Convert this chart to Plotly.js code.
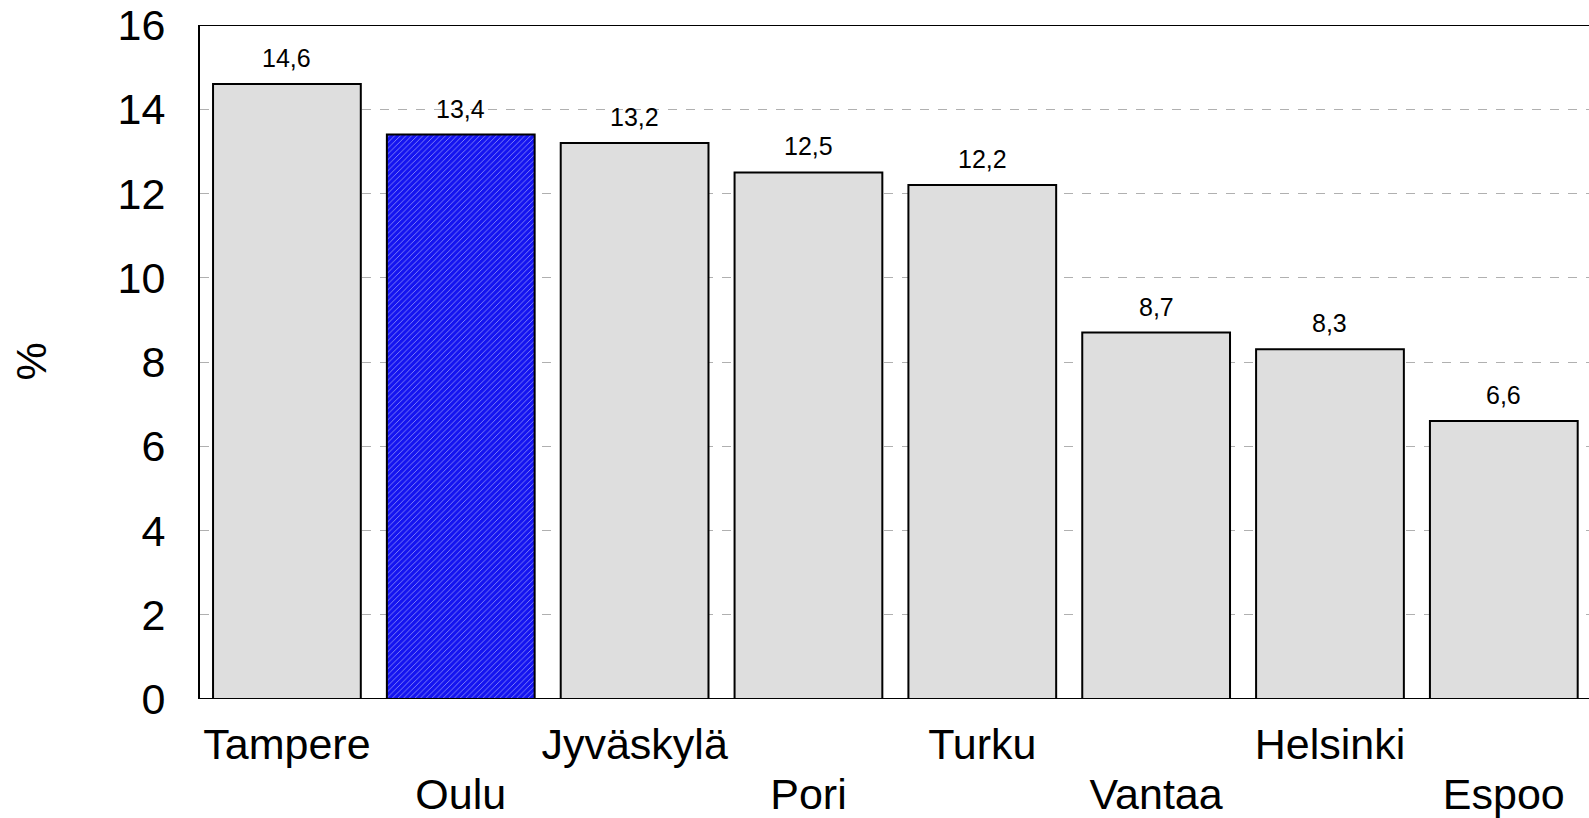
<!DOCTYPE html>
<html>
<head>
<meta charset="utf-8">
<script src="https://cdn.plot.ly/plotly-3.0.1.min.js"></script>
<style>html,body{margin:0;padding:0;background:#fff;overflow:hidden}#chart{width:1589px;height:818px}</style>
</head>
<body>
<div id="chart"></div>
<script>
const cities = ["Tampere", "Oulu", "Jyväskylä", "Pori", "Turku", "Vantaa", "Helsinki", "Espoo"];
const values = [14.6, 13.4, 13.2, 12.5, 12.2, 8.7, 8.3, 6.6];
const highlight = "Oulu";
const yTicks = [0, 2, 4, 6, 8, 10, 12, 14, 16];

const FONT = "Liberation Sans, Arial, sans-serif";
const idx = cities.map((c, i) => i);
const isHi = cities.map(c => c === highlight);

const bars = {
  type: "bar",
  x: idx,
  y: values,
  xaxis: "x",
  yaxis: "y",
  marker: {
    color: isHi.map(h => h ? "#1414f0" : "#dedede"),
    line: {color: "#000", width: 2},
    pattern: {
      shape: isHi.map(h => h ? "/" : ""),
      fgcolor: "#9a9aff",
      size: 4,
      solidity: 0.22,
      fillmode: "overlay"
    }
  },
  hoverinfo: "skip"
};

const evenIdx = idx.filter(i => i % 2 === 0);
const oddIdx = idx.filter(i => i % 2 === 1);

const annotations = values.map((v, i) => ({
  x: i, y: v, xref: "x", yref: "y",
  text: v.toFixed(1).replace(".", ","),
  showarrow: false, yanchor: "bottom", yshift: 10,
  font: {family: FONT, size: 25, color: "#000"}
}));

annotations.push({
  xref: "paper", yref: "paper", x: -0.122, y: 0.5,
  text: "%", textangle: -90, showarrow: false,
  xanchor: "center", yanchor: "middle",
  font: {family: FONT, size: 43, color: "#000"}
});

const xr = [-0.5, 7.49];
const layout = {
  width: 1589, height: 818,
  margin: {l: 200, r: 0, t: 25, b: 119},
  paper_bgcolor: "#fff", plot_bgcolor: "#fff",
  showlegend: false,
  bargap: 0.15,
  font: {family: FONT, color: "#000"},
  xaxis: {
    range: xr, tickmode: "array", tickvals: evenIdx, ticktext: evenIdx.map(i => cities[i]),
    showgrid: false, zeroline: false, showline: false, ticks: "",
    ticklabelstandoff: 16,
    tickfont: {family: FONT, size: 43, color: "#000"}, fixedrange: true
  },
  xaxis2: {
    overlaying: "x", anchor: "y", side: "bottom", range: xr,
    tickmode: "array", tickvals: oddIdx, ticktext: oddIdx.map(i => cities[i]),
    showgrid: false, zeroline: false, showline: false, ticks: "",
    ticklabelstandoff: 66,
    tickfont: {family: FONT, size: 43, color: "#000"}, fixedrange: true
  },
  yaxis: {
    range: [0, 16], tickmode: "array", tickvals: yTicks,
    showgrid: true, gridcolor: "#b0b0b0", griddash: "dash", gridwidth: 1,
    zeroline: false, showline: true, linecolor: "#000", linewidth: 2,
    ticks: "", ticklabelstandoff: 24,
    tickfont: {family: FONT, size: 43, color: "#000"}, fixedrange: true
  },
  shapes: [
    {type: "line", xref: "paper", yref: "y", x0: 0, x1: 1, y0: 16, y1: 16, line: {color: "#000", width: 2}},
    {type: "line", xref: "paper", yref: "y", x0: 0, x1: 1, y0: 0, y1: 0, line: {color: "#000", width: 2}}
  ],
  annotations: annotations
};

const dummy = {type: "scatter", x: [0], y: [null], xaxis: "x2", yaxis: "y", hoverinfo: "skip", showlegend: false};

Plotly.newPlot("chart", [bars, dummy], layout, {displayModeBar: false, staticPlot: true});
</script>
</body>
</html>
